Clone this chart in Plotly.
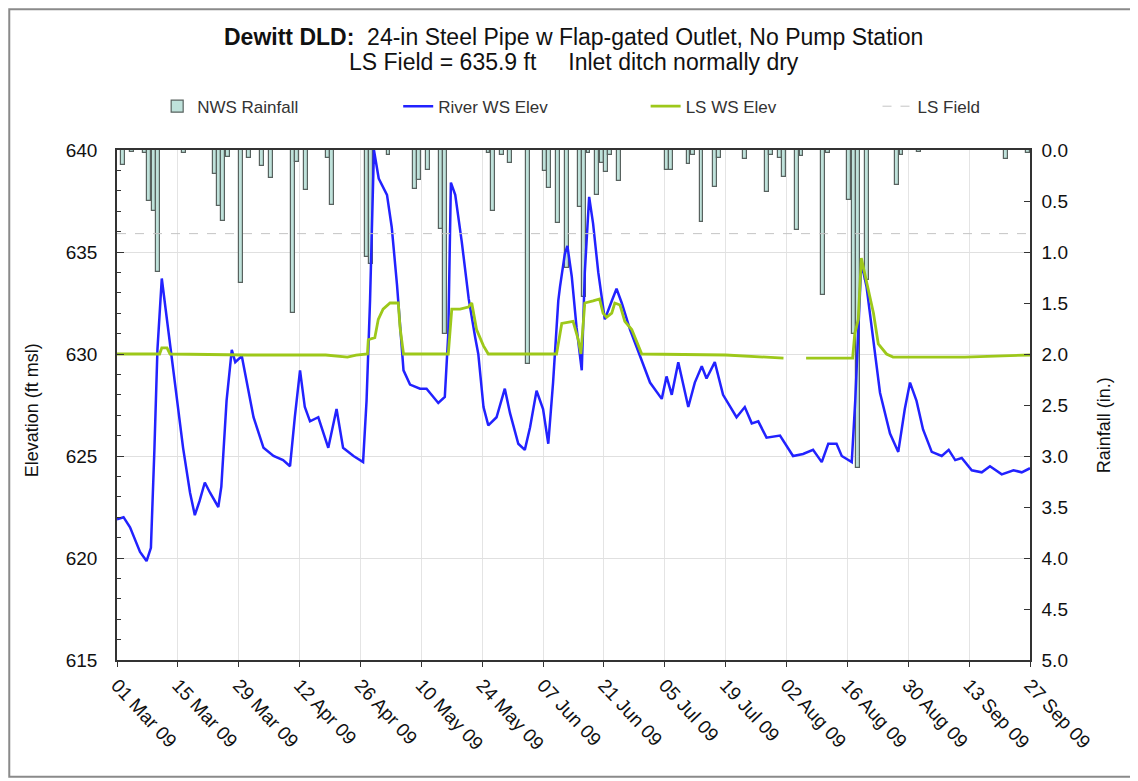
import pandas as pd
import plotly.graph_objects as go

BASE = pd.Timestamp("2009-03-01")
X_START = "2009-03-01"
X_END = "2009-09-27"

# NWS rainfall (days after 01 Mar 09, inches)
rain_day = [1, 3, 6, 7, 8, 9, 15, 22, 23, 24, 25, 28, 30, 33, 35, 40, 41, 43, 48, 49,
            57, 58, 62, 68, 69, 71, 74, 75, 85, 86, 88, 90, 94, 98, 99, 101, 103,
            106, 107, 108, 110, 111, 112, 113, 115, 126, 127, 131, 132, 134, 137, 138,
            144, 149, 150, 152, 153, 156, 157, 162, 163, 168, 169, 170, 172, 179, 180,
            184, 204, 209]
rain_in = [0.15, 0.02, 0.03, 0.5, 0.6, 1.2, 0.03, 0.24, 0.55, 0.7, 0.07, 1.3, 0.08, 0.16, 0.27, 1.6, 0.12, 0.39, 0.08, 0.54,
           1.05, 1.12, 0.05, 0.38, 0.29, 0.2, 0.77, 1.8, 0.03, 0.6, 0.05, 0.13, 2.1, 0.21, 0.37, 0.72, 1.16,
           0.56, 1.44, 0.03, 0.44, 0.13, 0.22, 0.05, 0.3, 0.2, 0.2, 0.14, 0.05, 0.71, 0.36, 0.08,
           0.09, 0.41, 0.05, 0.08, 0.26, 0.78, 0.06, 1.42, 0.03, 0.49, 1.8, 3.12, 1.27, 0.34, 0.05,
           0.02, 0.09, 0.03]

# River water-surface elevation (ft msl)
river_day = [0, 1.5, 3, 5.3, 6.8, 7.8, 8.6, 9.3, 10.3, 12.2, 13.7, 15.2, 16.8, 17.9, 19.0, 20.2, 21.4,
             23.3, 24.0, 25.2, 26.4, 27.2, 28.7, 29.8, 31.4, 33.7, 36.0, 38.2, 39.8, 40.9, 42.1, 43.2,
             44.4, 46.3, 48.6, 50.5, 52.0, 54.4, 56.6, 57.4, 58.2, 59.1, 60.2, 62.1, 63.2, 64.4, 65.5,
             65.9, 67.4, 69.7, 71.2, 73.9, 75.4, 76.2, 76.8, 77.8, 79.3, 80.9, 82.4, 83.1, 84.3, 85.4,
             87.3, 89.2, 90.4, 92.3, 93.8, 95.0, 96.5, 98.0, 99.2, 100.3, 101.5, 101.9, 103.0, 103.6,
             104.6, 105.7, 106.9, 107.6, 108.6, 109.5, 110.7, 112.2, 113.8, 114.9, 116.1, 118.0, 120.3,
             122.6, 125.3, 126.4, 127.6, 129.1, 131.4, 132.9, 134.5, 135.6, 137.5, 139.4, 142.5, 144.4,
             146.0, 147.5, 149.4, 152.5, 155.5, 157.8, 160.1, 162.1, 163.6, 165.5, 166.7, 169.0, 169.8,
             170.5, 171.2, 172.4, 174.0, 175.5, 177.8, 179.7, 181.2, 182.4, 183.9, 185.4, 187.4, 189.7,
             191.3, 192.8, 194.3, 196.6, 198.9, 200.8, 203.5, 206.2, 208.1, 210.0]
river_elev = [621.9, 622.0, 621.5, 620.3, 619.85, 620.5, 625.3, 630.2, 633.7, 630.5, 628.1, 625.4, 623.2, 622.1, 622.8, 623.7, 623.2,
              622.5, 623.5, 627.7, 630.2, 629.6, 629.9, 628.6, 626.9, 625.4, 625.0, 624.8, 624.5, 626.9, 629.2, 627.4,
              626.7, 626.9, 625.4, 627.3, 625.4, 625.0, 624.7, 627.7, 632.6, 640.0, 638.6, 637.8, 636.2, 633.4, 630.4,
              629.2, 628.5, 628.3, 628.3, 627.6, 627.9, 631.0, 638.4, 637.8, 635.5, 632.7, 630.8, 630.0, 627.4, 626.5,
              626.9, 628.3, 627.1, 625.6, 625.3, 626.4, 628.2, 627.3, 625.6, 628.6, 632.6, 633.3, 634.9, 635.3,
              633.8, 631.3, 629.2, 634.0, 637.7, 636.4, 634.0, 631.7, 632.6, 633.2, 632.5, 631.2, 629.9,
              628.6, 627.8, 628.9, 628.0, 629.6, 627.4, 628.6, 629.4, 628.8, 629.6, 628.0, 626.9, 627.4,
              626.6, 626.7, 625.9, 626.0, 625.0, 625.1, 625.3, 624.7, 625.6, 625.6, 625.0, 624.7, 627.7,
              631.0, 634.5, 633.3, 630.5, 628.1, 626.1, 625.2, 627.3, 628.6, 627.7, 626.3, 625.2, 625.0,
              625.3, 624.8, 624.9, 624.3, 624.2, 624.5, 624.1, 624.3, 624.2, 624.4]

# Land-side water-surface elevation (ft msl); None marks the data gap
ls_day = [0, 9.8, 10.3, 11.5, 12.2, 30, 48, 53, 55, 57.6, 57.8, 59.3, 60.1, 61.2, 62.8, 64.7, 65.1, 65.9,
          76.2, 76.6, 77.0, 78.9, 80.8, 81.6, 82.7, 84.3, 85.4, 101.1, 101.5, 102.3, 104.9, 106.1, 106.7,
          107.2, 107.6, 109.5, 111.0, 111.8, 112.6, 113.8, 114.5, 115.7, 116.8, 118.4, 119.9, 120.7, 140,
          145, 150, 153.3, 155.5, 158.5, 169.2, 169.7, 170.5, 171.2, 172.4, 174.0, 175.1, 177.0, 178.5, 195, 210]
ls_elev = [630.0, 630.0, 630.3, 630.3, 630.0, 629.95, 629.95, 629.85, 629.95, 630.0, 630.7, 630.8, 631.7, 632.2, 632.5, 632.5, 631.3, 630.0,
           630.0, 631.0, 632.2, 632.2, 632.3, 632.5, 631.2, 630.4, 630.0, 630.0, 630.5, 631.5, 631.6, 630.7, 630.0,
           631.5, 632.5, 632.6, 632.7, 632.0, 631.8, 632.0, 632.5, 632.4, 631.6, 631.2, 630.4, 630.0, 629.95,
           629.9, 629.85, 629.8, None, 629.8, 629.8, 631.0, 631.7, 634.7, 633.6, 632.0, 630.5, 630.0, 629.85, 629.85, 629.95]

ls_field_elev = 635.9


def to_dates(days):
    return [BASE + pd.Timedelta(days=float(d)) for d in days]


FONT = "Liberation Sans, Arial, sans-serif"
DAY_MS = 86400000

fig = go.Figure()
fig.add_trace(go.Bar(
    x=to_dates(rain_day), y=rain_in, name="NWS Rainfall", yaxis="y", legend="legend",
    width=0.9 * DAY_MS, offset=0,
    marker=dict(color="#bfe2db", line=dict(color="#58625f", width=1.2)),
))
fig.add_trace(go.Scatter(
    x=to_dates(river_day), y=river_elev, name="River WS Elev", yaxis="y2", legend="legend2",
    mode="lines", line=dict(color="#2222ff", width=2.5),
))
fig.add_trace(go.Scatter(
    x=to_dates(ls_day), y=ls_elev, name="LS WS Elev", yaxis="y2", legend="legend3",
    mode="lines", line=dict(color="#9dc81a", width=2.8), connectgaps=False,
))
fig.add_trace(go.Scatter(
    x=[X_START, X_END], y=[ls_field_elev, ls_field_elev], name="LS Field", yaxis="y2", legend="legend4",
    mode="lines", line=dict(color="#c4c4c4", width=1, dash="dash"),
))

leg_common = dict(orientation="h", xanchor="left", yanchor="middle", y=1.085,
                  font=dict(family=FONT, size=17, color="#333333"), bgcolor="rgba(0,0,0,0)")

fig.update_layout(
    width=1130, height=773, autosize=False,
    margin=dict(l=109, r=108, t=142, b=121),
    paper_bgcolor="white", plot_bgcolor="white",
    font=dict(family=FONT, color="#000000", size=17),
    showlegend=True,
    legend=dict(x=0.044, **leg_common),
    legend2=dict(x=0.308, **leg_common),
    legend3=dict(x=0.579, **leg_common),
    legend4=dict(x=0.833, **leg_common),
    bargap=0,
    xaxis=dict(
        type="date", range=[X_START, X_END],
        tickmode="linear", tick0=X_START, dtick=14 * DAY_MS, tickformat="%d %b %y",
        tickangle=47, tickfont=dict(size=19, color="#111111"),
        ticks="outside", ticklen=5, tickcolor="#333333",
        showline=True, linecolor="#333333", linewidth=1.5, mirror=True,
        showgrid=True, gridcolor="#e4e4e4", gridwidth=1, zeroline=False,
    ),
    yaxis=dict(
        side="right", range=[5, 0], tickmode="linear", tick0=0, dtick=0.5, tickformat=".1f",
        ticks="inside", ticklen=6, tickcolor="#333333", tickfont=dict(size=19, color="#111111"),
        ticklabelstandoff=6,
        showline=True, linecolor="#333333", linewidth=1.5, showgrid=False, zeroline=False,
    ),
    yaxis2=dict(
        overlaying="y", side="left", anchor="x", range=[615, 640],
        tickmode="linear", tick0=615, dtick=5, tickfont=dict(size=19, color="#111111"),
        ticks="inside", ticklen=7, tickcolor="#333333", ticklabelstandoff=14,
        minor=dict(dtick=1, ticks="inside", ticklen=4, tickcolor="#333333", showgrid=False),
        showline=True, linecolor="#333333", linewidth=1.5,
        showgrid=True, gridcolor="#e0e0e0", gridwidth=1, zeroline=False,
    ),
    annotations=[
        dict(xref="paper", yref="paper", x=0.5, y=1.222, xanchor="center", yanchor="middle",
             showarrow=False, font=dict(family=FONT, size=23, color="#111111"),
             text="<b>Dewitt DLD:</b>  24-in Steel Pipe w Flap-gated Outlet, No Pump Station"),
        dict(xref="paper", yref="paper", x=0.5, y=1.173, xanchor="center", yanchor="middle",
             showarrow=False, font=dict(family=FONT, size=23, color="#111111"),
             text="LS Field = 635.9 ft     Inlet ditch normally dry"),
        dict(xref="paper", yref="paper", x=-0.093, y=0.49, xanchor="center", yanchor="middle",
             showarrow=False, textangle=-90, font=dict(family=FONT, size=18, color="#111111"),
             text="Elevation (ft msl)"),
        dict(xref="paper", yref="paper", x=1.082, y=0.46, xanchor="center", yanchor="middle",
             showarrow=False, textangle=-90, font=dict(family=FONT, size=18, color="#111111"),
             text="Rainfall (in.)"),
    ],
    shapes=[
        dict(type="rect", xref="paper", yref="paper", x0=-0.118, x1=1.117, y0=-0.229, y1=1.276,
             line=dict(color="#8a8a8a", width=2), fillcolor="rgba(0,0,0,0)", layer="below"),
    ],
)

fig.write_html("out.html")
